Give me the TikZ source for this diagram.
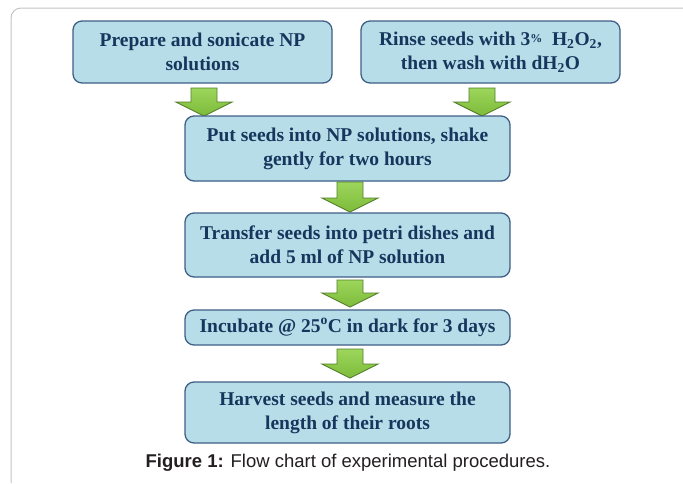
\documentclass[tikz,border=0pt]{standalone}
\usepackage{fontspec}
\setmainfont{Liberation Serif}
\newfontfamily\capfont{Liberation Sans}
\definecolor{boxfill}{HTML}{B7DDE8}
\definecolor{boxline}{HTML}{3F5F86}
\definecolor{boxtext}{HTML}{17365D}
\definecolor{arrtop}{HTML}{9CD65C}
\definecolor{arrbot}{HTML}{7DBB3A}
\definecolor{arrline}{HTML}{557F2A}
\definecolor{framecol}{HTML}{C4C4C4}
\definecolor{captext}{HTML}{231F20}
\tikzset{
  x=1pt, y=-1pt,
  stepbox/.style={draw=boxline, line width=1.3pt, fill=boxfill, rounded corners=9pt,
    text=boxtext, font=\fontsize{19.5}{24}\selectfont\bfseries, align=center, inner sep=0pt},
  pics/blockarrow/.style={code={
    \path[draw=arrline, line width=0.9pt, top color=arrtop, bottom color=arrbot, line join=miter]
      (-13,0) -- (13,0) -- (13,#1-14) -- (28,#1-14) -- (0,#1) -- (-28,#1-14) -- (-13,#1-14) -- cycle;
  }}
}
\begin{document}
\begin{tikzpicture}
\useasboundingbox (0,0) rectangle (683,483);
\fill[white] (0,0) rectangle (683,483);
% frame
\draw[framecol, line width=1pt, rounded corners=10pt] (11,483) -- (11,8) -- (690,8);
% boxes
\node[stepbox, minimum width=259pt, minimum height=62pt] (b1) at (202.5,52)
  {Prepare and sonicate NP\\solutions};
\node[stepbox, minimum width=259pt, minimum height=62pt] (b2) at (490.5,52)
  {Rinse seeds with 3\raisebox{2.5pt}{\fontsize{12}{12}\selectfont\%}\ \ H\textsubscript{2}O\textsubscript{2},\\then wash with dH\textsubscript{2}O};
% arrows
\pic at (204,88) {blockarrow=28};
\pic at (482,88) {blockarrow=28};
\node[stepbox, minimum width=325pt, minimum height=65pt] (b3) at (347.5,148.5)
  {Put seeds into NP solutions, shake\\gently for two hours};
\pic at (350,182) {blockarrow=30};
\node[stepbox, minimum width=325pt, minimum height=64pt] (b4) at (347.5,245)
  {Transfer seeds into petri dishes and\\add 5 ml of NP solution};
\pic at (350,280) {blockarrow=27};
\node[stepbox, minimum width=325pt, minimum height=35pt] (b5) at (347.5,327.5)
  {Incubate @ 25\textsuperscript{o}C in dark for 3 days};
\pic at (350,349) {blockarrow=29};
\node[stepbox, minimum width=325pt, minimum height=61pt] (b6) at (347.5,412.5)
  {Harvest seeds and measure the\\length of their roots};
% caption
\node[anchor=base, text=captext, font=\capfont\fontsize{18.5}{20}\selectfont, inner sep=0pt] (cap) at (348,467)
  {\textbf{Figure 1:} Flow chart of experimental procedures.};
\end{tikzpicture}
\end{document}
